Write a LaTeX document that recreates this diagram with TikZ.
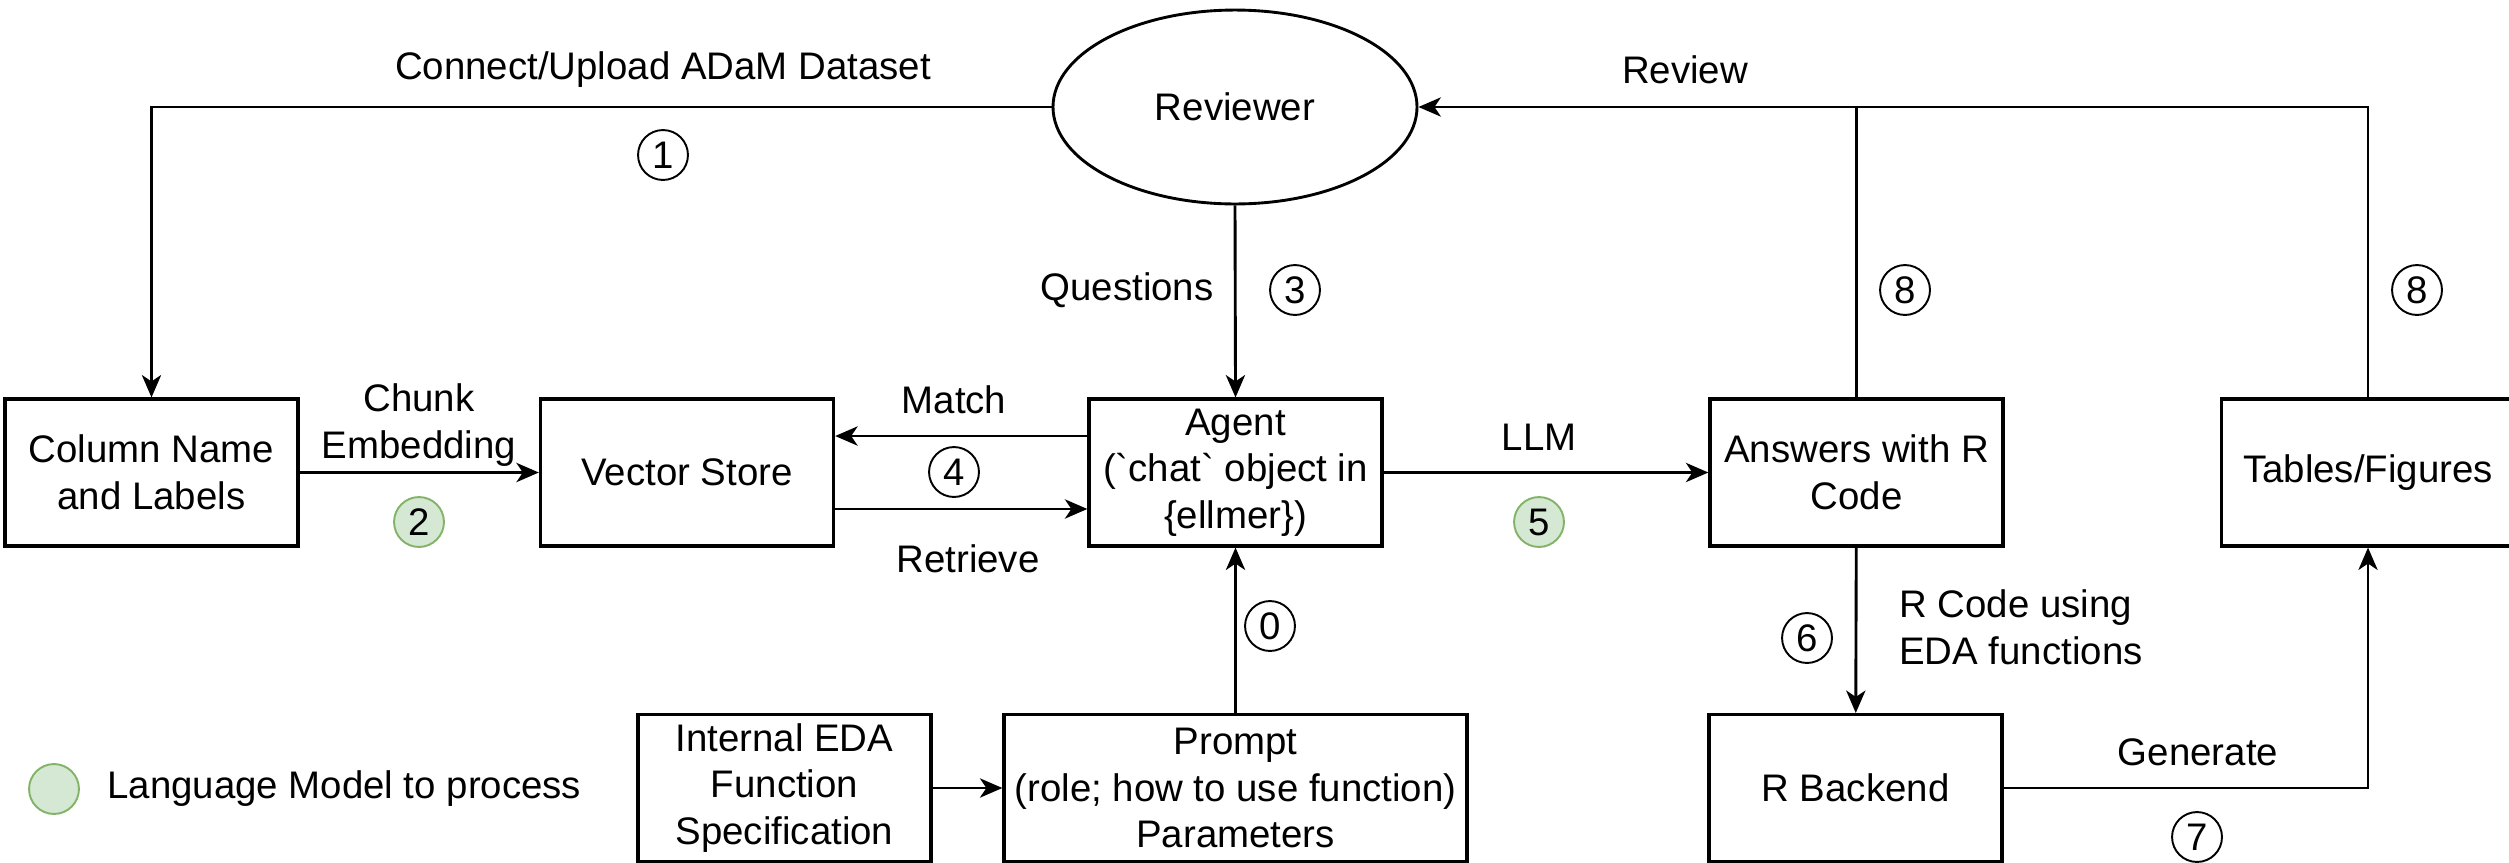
\documentclass[tikz,border=0pt]{standalone}
\usepackage{fontspec}
\setmainfont{Liberation Sans}
\usetikzlibrary{shapes.geometric,arrows.meta}
\definecolor{lmfill}{HTML}{D5E8D4}
\definecolor{lmline}{HTML}{82B366}
\begin{document}
\begin{tikzpicture}[x=0.3125pt,y=-0.3125pt,
   every node/.style={font=\fontsize{12pt}{14.6pt}\selectfont},
   box/.style={draw,line width=1pt,minimum width=91.6pt,minimum height=45.9pt,align=center,inner sep=1pt},
   num/.style={draw,circle,line width=0.6pt,minimum size=15.6pt,inner sep=0pt},
   lmnum/.style={num,fill=lmfill,draw=lmline},
   arr/.style={-{Stealth[length=7pt,width=6pt,inset=2pt]},line width=0.9pt}]
   \path[use as bounding box,clip] (0,0) rectangle (2509,862);
   % boxes
   \node[draw,ellipse,line width=0.9pt,minimum width=113.75pt,minimum height=60.6pt,inner sep=0pt] (reviewer) at (1235,107) {Reviewer};
   \node[box] (colname) at (151.5,472.5) {Column Name\\and Labels};
   \node[box] (vstore) at (687,472.5) {Vector Store};
   \node[box] (agent) at (1235.5,472.5) {Agent\\(\textasciigrave chat\textasciigrave{} object in\\\{ellmer\})};
   \node[box] (answers) at (1856.5,472.5) {Answers with R\\Code};
   \node[box] (tables) at (2368,472.5) {Tables/Figures};
   \node[box] (eda) at (784.5,788) {Internal EDA\\Function\\Specification};
   \node[box,minimum width=144.7pt] (prompt) at (1235.5,788) {Prompt\\(role; how to use function)\\Parameters};
   \node[box] (rback) at (1855.5,788) {R Backend};
   % connectors
   \draw[arr] (reviewer.west) -| (colname.north);
   \draw[arr] (reviewer.south) -- (agent.north);
   \draw[arr] (colname) -- (vstore);
   \draw[arr] ([yshift=11.4pt]agent.west) -- ([yshift=11.4pt]vstore.east);
   \draw[arr] ([yshift=-11.4pt]vstore.east) -- ([yshift=-11.4pt]agent.west);
   \draw[arr] (agent) -- (answers);
   \draw[arr] (prompt) -- (agent);
   \draw[arr] (eda) -- (prompt);
   \draw[arr] (answers) -- (rback);
   \draw[arr] (rback.east) -| (tables.south);
   \draw[arr] (tables.north) |- (reviewer.east);
   \draw[line width=0.9pt] (answers.north) -- (answers.north |- reviewer.east);
   % labels
   \node (lconnect) at (663,70) {Connect/Upload ADaM Dataset};
   \node[num] (n1) at (663,155) {1};
   \node[align=center] (lchunk) at (419,425) {Chunk\\Embedding};
   \node[lmnum] (n2) at (419,522) {2};
   \node (lmatch) at (954,400) {Match};
   \node[num] (n4) at (954,472) {4};
   \node (lretrieve) at (968,559) {Retrieve};
   \node (lquestions) at (1127,290) {Questions};
   \node[num] (n3) at (1295,290) {3};
   \node (lreview) at (1685,70) {Review};
   \node[num] (n8a) at (1905,290) {8};
   \node[num] (n8b) at (2417,290) {8};
   \node (lllm) at (1539,437) {LLM};
   \node[lmnum] (n5) at (1539,522) {5};
   \node[num] (n0) at (1270,626) {0};
   \node[num] (n6) at (1807,638) {6};
   \node[anchor=west,align=left] (lrcode) at (1888,627) {R Code using\\EDA functions};
   \node (lgenerate) at (2198,752) {Generate};
   \node[num] (n7) at (2197,837) {7};
   % legend
   \node[lmnum] (legend) at (54,789) {};
   \node[anchor=west] (llegend) at (96,789) {Language Model to process};
\end{tikzpicture}
\end{document}
